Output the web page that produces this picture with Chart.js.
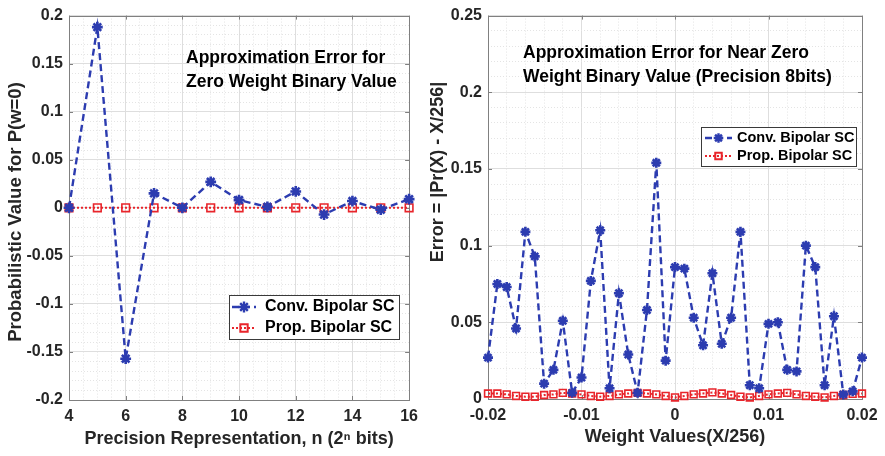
<!DOCTYPE html>
<html>
<head>
<meta charset="utf-8">
<script src="https://cdn.jsdelivr.net/npm/chart.js@4.4.1/dist/chart.umd.min.js"></script>
<style>
html, body { margin: 0; padding: 0; background: #fff; }
#wrap { position: relative; width: 885px; height: 456px; overflow: hidden; }
#left { position: absolute; left: 0; top: 0; }
#right { position: absolute; left: 425px; top: 0; }
</style>
</head>
<body>
<div id="wrap">
  <canvas id="left" width="425" height="456"></canvas>
  <canvas id="right" width="460" height="456"></canvas>
</div>
<script>
// ---- left panel: zero weight, vs precision n ----
const precisionN = [4, 5, 6, 7, 8, 9, 10, 11, 12, 13, 14, 15, 16];
const convZero = [0, 0.188, -0.157, 0.015, 0, 0.027, 0.008, 0.001, 0.017, -0.007, 0.007, -0.002, 0.009];
const propZero = [0, 0, 0, 0, 0, 0, 0, 0, 0, 0, 0, 0, 0];

// ---- right panel: near zero weights, 8 bit precision ----
const weightValues = [-0.020, -0.019, -0.018, -0.017, -0.016, -0.015, -0.014, -0.013, -0.012, -0.011,
  -0.010, -0.009, -0.008, -0.007, -0.006, -0.005, -0.004, -0.003, -0.002, -0.001, 0,
  0.001, 0.002, 0.003, 0.004, 0.005, 0.006, 0.007, 0.008, 0.009, 0.010,
  0.011, 0.012, 0.013, 0.014, 0.015, 0.016, 0.017, 0.018, 0.019, 0.020];
const convNear = [0.027, 0.075, 0.073, 0.046, 0.109, 0.093, 0.010, 0.019, 0.051, 0.004,
  0.014, 0.077, 0.110, 0.007, 0.069, 0.029, 0.004, 0.058, 0.154, 0.025, 0.086,
  0.085, 0.053, 0.035, 0.082, 0.036, 0.053, 0.109, 0.009, 0.007, 0.049,
  0.050, 0.019, 0.018, 0.100, 0.086, 0.009, 0.054, 0.003, 0.005, 0.027];
const propNear = [0.0036, 0.0036, 0.003, 0.002, 0.0015, 0.0015, 0.0026, 0.003, 0.004, 0.0036,
  0.003, 0.002, 0.0015, 0.002, 0.003, 0.0036, 0.004, 0.0036, 0.003, 0.002, 0.001,
  0.002, 0.003, 0.0036, 0.0043, 0.0036, 0.0026, 0.0015, 0.001, 0.002, 0.003,
  0.0036, 0.004, 0.003, 0.002, 0.0015, 0.001, 0.002, 0.0026, 0.0034, 0.0036];

// tick labels (major) for each axis
const leftXTicks = [4, 6, 8, 10, 12, 14, 16];
const leftYTicks = [-0.2, -0.15, -0.1, -0.05, 0, 0.05, 0.1, 0.15, 0.2];
const rightXTicks = [-0.02, -0.01, 0, 0.01, 0.02];
const rightYTicks = [0, 0.05, 0.1, 0.15, 0.2, 0.25];

const seriesNames = ['Conv. Bipolar SC', 'Prop. Bipolar SC'];

const FONT = '"Liberation Sans", Arial, Helvetica, sans-serif';
const BLUE = '#2c3cb0';
const RED = '#e8252b';
const TXT = '#262626';

// minor grid = major interval split in `sub` parts
function minorTicks(major, sub) {
    const out = [];
    for (let i = 0; i < major.length - 1; i++) {
        for (let k = 0; k < sub; k++) {
            out.push(major[i] + (major[i + 1] - major[i]) * k / sub);
        }
    }
    out.push(major[major.length - 1]);
    return out;
}
function isMajor(major, v) {
    return major.some(m => Math.abs(m - v) < 1e-9);
}

function makeAxis(major, sub, fitSize, isX, title, titlePad) {
    return {
        type: 'linear',
        min: major[0],
        max: major[major.length - 1],
        afterBuildTicks: s => { s.ticks = minorTicks(major, sub).map(v => ({ value: v })); },
        afterFit: s => { if (isX) s.height = fitSize; else s.width = fitSize; },
        ticks: {
            autoSkip: false,
            maxRotation: 0,
            padding: isX ? 7 : 6,
            color: TXT,
            font: { family: FONT, size: 16, weight: 'bold' },
            callback: v => isMajor(major, v) ? String(+v.toFixed(4)) : ''
        },
        grid: {
            drawTicks: false,
            lineWidth: 1,
            color: c => (c.tick && isMajor(major, c.tick.value)) ? '#dedede' : '#e4e4e4'
        },
        border: {
            display: false,
            dash: c => (c.tick && !isMajor(major, c.tick.value)) ? [1, 2] : []
        },
        title: {
            display: !!title,
            text: title || '',
            color: TXT,
            font: { family: FONT, size: 18, weight: 'bold' },
            padding: titlePad
        }
    };
}

// box around the axes + small inward ticks (matlab style)
const framePlugin = {
    id: 'frame',
    beforeDatasetsDraw(chart) {
        const { ctx, chartArea: a, scales } = chart;
        ctx.save();
        ctx.strokeStyle = '#808080';
        ctx.lineWidth = 1;
        ctx.beginPath();
        scales.x.ticks.forEach(t => {
            if (t.label === '') return;
            const px = Math.round(scales.x.getPixelForValue(t.value)) + 0.5;
            ctx.moveTo(px, a.bottom); ctx.lineTo(px, a.bottom - 4);
            ctx.moveTo(px, a.top); ctx.lineTo(px, a.top + 4);
        });
        scales.y.ticks.forEach(t => {
            if (t.label === '') return;
            const py = Math.round(scales.y.getPixelForValue(t.value)) + 0.5;
            ctx.moveTo(a.left, py); ctx.lineTo(a.left + 4, py);
            ctx.moveTo(a.right, py); ctx.lineTo(a.right - 4, py);
        });
        ctx.stroke();
        ctx.strokeRect(Math.round(a.left) + 0.5, Math.round(a.top) + 0.5,
            Math.round(a.right - a.left), Math.round(a.bottom - a.top));
        ctx.restore();
    }
};

// in-plot text, y axis title and legend box
const notesPlugin = {
    id: 'notes',
    afterDraw(chart, args, opts) {
        const ctx = chart.ctx;
        ctx.save();
        ctx.fillStyle = '#000';
        ctx.textBaseline = 'middle';
        ctx.textAlign = 'left';
        ctx.font = 'bold ' + opts.textSize + 'px ' + FONT;
        opts.text.forEach((t, i) => ctx.fillText(t, opts.textX, opts.textY[i]));

        // rotated y title
        const yt = opts.yTitle;
        ctx.save();
        ctx.translate(yt.x, yt.y);
        ctx.rotate(-Math.PI / 2);
        ctx.textAlign = 'center';
        ctx.fillStyle = TXT;
        ctx.font = 'bold ' + yt.size + 'px ' + FONT;
        ctx.fillText(yt.text, 0, 0);
        ctx.restore();

        const b = opts.legend;
        ctx.fillStyle = '#fff';
        ctx.fillRect(b.x, b.y, b.w, b.h);
        ctx.strokeStyle = '#3a3a3a';
        ctx.lineWidth = 1;
        ctx.strokeRect(b.x + 0.5, b.y + 0.5, b.w, b.h);
        ctx.font = 'bold ' + b.size + 'px ' + FONT;
        chart.data.datasets.forEach((ds, i) => {
            const y = b.rows[i];
            ctx.beginPath();
            ctx.setLineDash(ds.borderDash || []);
            ctx.strokeStyle = ds.borderColor;
            ctx.lineWidth = ds.borderWidth;
            ctx.moveTo(b.lx0, y);
            ctx.lineTo(b.lx1, y);
            ctx.stroke();
            ctx.setLineDash([]);
            ctx.strokeStyle = ds.pointBorderColor;
            ctx.fillStyle = 'rgba(0,0,0,0)';
            Chart.helpers.drawPoint(ctx, {
                pointStyle: ds.pointStyle, radius: b.markR[i], rotation: 0, borderWidth: ds.pointBorderWidth
            }, (b.lx0 + b.lx1) / 2, y);
            ctx.fillStyle = '#000';
            ctx.fillText(ds.label, b.tx, y);
        });
        ctx.restore();
    }
};

function datasets(xs, conv, prop, starR, rectR) {
    return [
        {
            label: seriesNames[0],
            data: xs.map((x, i) => ({ x: x, y: conv[i] })),
            borderColor: BLUE,
            borderWidth: 2.4,
            borderDash: [7, 4],
            pointStyle: 'star',
            pointRadius: starR,
            pointBorderColor: BLUE,
            pointBorderWidth: 2.6,
            pointBackgroundColor: BLUE,
            tension: 0,
            clip: false
        },
        {
            label: seriesNames[1],
            data: xs.map((x, i) => ({ x: x, y: prop[i] })),
            borderColor: RED,
            borderWidth: 2,
            borderDash: [2, 2],
            pointStyle: 'rect',
            pointRadius: rectR,
            pointBorderColor: RED,
            pointBorderWidth: 1.6,
            pointBackgroundColor: 'rgba(255,255,255,0)',
            tension: 0,
            clip: false
        }
    ];
}

new Chart(document.getElementById('left').getContext('2d'), {
    type: 'line',
    data: { datasets: datasets(precisionN, convZero, propZero, 5.4, 5.4) },
    options: {
        responsive: false,
        animation: false,
        layout: { padding: { top: 12, right: 9, left: 0, bottom: 0 } },
        scales: {
            x: makeAxis(leftXTicks, 4, 56, true, 'Precision Representation, n (2\u207F bits)', { top: 0, bottom: 6 }),
            y: makeAxis(leftYTicks, 5, 69, false, '', 0)
        },
        plugins: {
            legend: { display: false },
            tooltip: { enabled: false },
            notes: {
                text: ['Approximation Error for', 'Zero Weight Binary Value'],
                textX: 186, textY: [58, 82], textSize: 17.5,
                yTitle: { text: 'Probabilistic Value for P(w=0)', x: 16, y: 212, size: 18.5 },
                legend: { x: 229, y: 295, w: 170, h: 44, rows: [307, 328], lx0: 232, lx1: 256, tx: 265, size: 16, markR: [5.4, 5.2] }
            }
        }
    },
    plugins: [framePlugin, notesPlugin]
});

new Chart(document.getElementById('right').getContext('2d'), {
    type: 'line',
    data: { datasets: datasets(weightValues, convNear, propNear, 5, 4.8) },
    options: {
        responsive: false,
        animation: false,
        layout: { padding: { top: 10, right: 23, left: 0, bottom: 0 } },
        scales: {
            x: makeAxis(rightXTicks, 5, 57, true, 'Weight Values(X/256)', { top: 0, bottom: 8 }),
            y: makeAxis(rightYTicks, 5, 63, false, '', 0)
        },
        plugins: {
            legend: { display: false },
            tooltip: { enabled: false },
            notes: {
                text: ['Approximation Error for Near Zero', 'Weight Binary Value (Precision 8bits)'],
                textX: 98, textY: [53, 77], textSize: 17.5,
                yTitle: { text: 'Error = |Pr(X) - X/256|', x: 13, y: 172, size: 18 },
                legend: { x: 276, y: 127, w: 155, h: 39, rows: [138, 156], lx0: 280, lx1: 307, tx: 312, size: 14.5, markR: [4.8, 4.6] }
            }
        }
    },
    plugins: [framePlugin, notesPlugin]
});
</script>
</body>
</html>
